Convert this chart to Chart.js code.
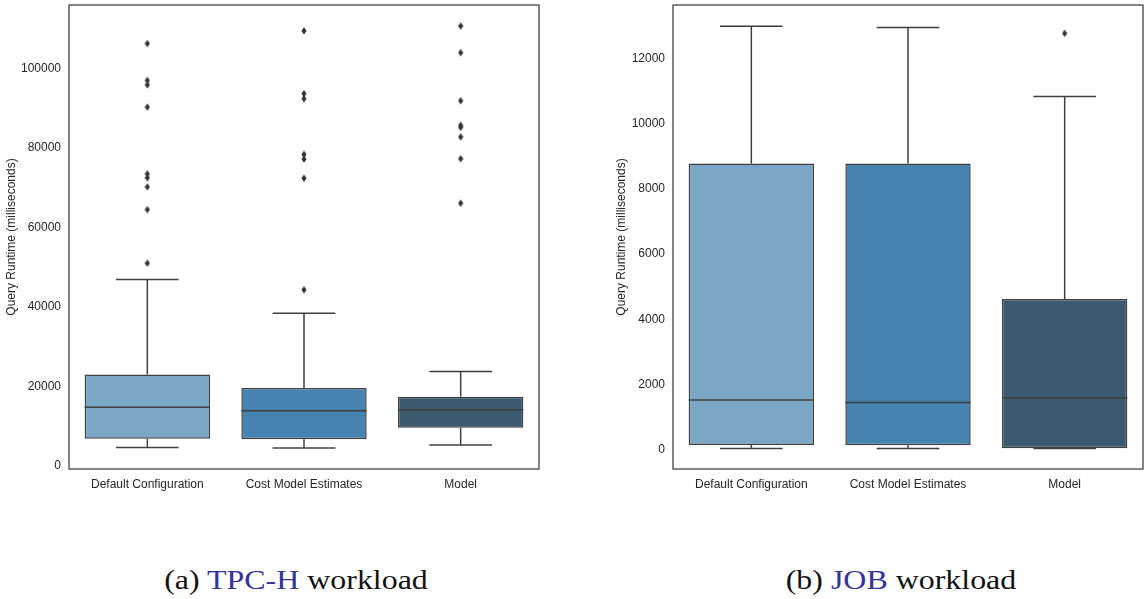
<!DOCTYPE html>
<html>
<head>
<meta charset="utf-8">
<script src="https://cdn.jsdelivr.net/npm/chart.js@4/dist/chart.umd.min.js"></script>
<style>
  html, body { margin: 0; padding: 0; background: #fff; }
  body { width: 1144px; height: 599px; overflow: hidden; position: relative; }
  canvas { position: absolute; top: 0; }
  #tpch { left: 0; }
  #job { left: 610px; }
  .caption {
    position: absolute; top: 566px; line-height: 28px;
    font-family: "Liberation Serif", "DejaVu Serif", serif; font-size: 28px;
    color: #111; white-space: nowrap; transform: translateX(-50%) scaleX(1.14);
  }
  .caption .ref { color: #33339a; }
</style>
</head>
<body>
<canvas id="tpch" width="544" height="500"></canvas>
<canvas id="job" width="538" height="500"></canvas>
<div class="caption" style="left:296px">(a) <span class="ref">TPC-H</span> workload</div>
<div class="caption" style="left:901px">(b) <span class="ref">JOB</span> workload</div>

<script>
// Configurations compared in both panels
const categories = ['Default Configuration', 'Cost Model Estimates', 'Model'];
const boxColors = ['#7ba7c6', '#4783b0', '#3b5a70'];

// TPC-H query runtimes (ms): box-plot summary per configuration
const tpchWhiskerLow  = [4600, 4500, 5250];
const tpchQ1          = [6800, 6700, 9600];
const tpchMedian      = [14750, 13850, 14100];
const tpchQ3          = [23000, 19600, 17400];
const tpchWhiskerHigh = [46900, 38400, 23750];
const tpchOutliersDefault = [51000, 64500, 70200, 72500, 73500, 90300, 95900, 97000, 106300];
const tpchOutliersCost    = [44300, 72400, 77200, 78400, 92400, 93700, 109500];
const tpchOutliersModel   = [66100, 77300, 82800, 85200, 85700, 91900, 104000, 110700];
const tpchTicks = [0, 20000, 40000, 60000, 80000, 100000];

// JOB query runtimes (ms)
const jobWhiskerLow  = [30, 30, 30];
const jobQ1          = [140, 130, 40];
const jobMedian      = [1520, 1440, 1590];
const jobQ3          = [8780, 8780, 4620];
const jobWhiskerHigh = [13000, 12960, 10840];
const jobOutliersDefault = [];
const jobOutliersCost    = [];
const jobOutliersModel   = [12780];
const jobTicks = [0, 2000, 4000, 6000, 8000, 10000, 12000];

const lineColor = '#3f3f3f';
const textColor = '#262626';
const tickFont = { family: '"Liberation Sans", Arial, sans-serif', size: 12 };

// thin diamond marker for the fliers
const flierMark = document.createElement('canvas');
flierMark.width = 6; flierMark.height = 8;
(() => {
  const c = flierMark.getContext('2d');
  c.fillStyle = '#333';
  c.beginPath();
  c.moveTo(3, 0.3); c.lineTo(5.6, 4); c.lineTo(3, 7.7); c.lineTo(0.4, 4);
  c.closePath(); c.fill();
})();

function whiskerPlugin(low, med, high) {
  return {
    id: 'whiskers',
    afterDatasetsDraw(chart) {
      const { ctx } = chart;
      const y = chart.scales.y;
      const meta = chart.getDatasetMeta(0);
      ctx.save();
      ctx.strokeStyle = lineColor;
      ctx.lineWidth = 1.5;
      const seg = (x1, y1, x2, y2) => { ctx.beginPath(); ctx.moveTo(x1, y1); ctx.lineTo(x2, y2); ctx.stroke(); };
      meta.data.forEach((bar, i) => {
        const cx = bar.x, half = bar.width / 2, cap = bar.width / 4;
        const top = Math.min(bar.y, bar.base), bottom = Math.max(bar.y, bar.base);
        const yLo = y.getPixelForValue(low[i]);
        const yHi = y.getPixelForValue(high[i]);
        const yMed = y.getPixelForValue(med[i]);
        seg(cx, bottom, cx, yLo);
        seg(cx - cap, yLo, cx + cap, yLo);
        seg(cx, top, cx, yHi);
        seg(cx - cap, yHi, cx + cap, yHi);
        seg(cx - half, yMed, cx + half, yMed);
      });
      ctx.restore();
    }
  };
}

const framePlugin = {
  id: 'frame',
  afterDraw(chart) {
    const a = chart.chartArea, ctx = chart.ctx;
    ctx.save();
    ctx.strokeStyle = '#3a3a3a';
    ctx.lineWidth = 1.25;
    ctx.strokeRect(a.left, a.top, a.right - a.left, a.bottom - a.top);
    ctx.restore();
  }
};

function noEdgePadding(scale) {
  scale.paddingTop = 0; scale.paddingBottom = 0;
  scale.paddingLeft = 0; scale.paddingRight = 0;
}

function makeChart(id, s) {
  const fliers = [];
  s.outliers.forEach((list, i) => list.forEach(v => fliers.push({ x: categories[i], y: v })));
  return new Chart(document.getElementById(id), {
    type: 'bar',
    data: {
      labels: categories,
      datasets: [
        {
          type: 'bar',
          data: categories.map((_, i) => [s.q1[i], s.q3[i]]),
          backgroundColor: boxColors,
          borderColor: lineColor,
          borderWidth: 1.5,
          borderSkipped: false,
          barPercentage: 0.8,
          categoryPercentage: 1,
          order: 1
        },
        {
          type: 'scatter',
          data: fliers,
          pointStyle: flierMark,
          showLine: false,
          order: 0
        }
      ]
    },
    options: {
      responsive: false,
      animation: false,
      events: [],
      layout: { padding: { top: 2, right: 1, left: 0, bottom: 0 } },
      plugins: { legend: { display: false }, tooltip: { enabled: false } },
      scales: {
        x: {
          type: 'category',
          grid: { display: false, drawTicks: false },
          border: { display: false },
          ticks: { font: tickFont, color: textColor, padding: 8, maxRotation: 0 },
          afterFit(scale) { scale.height = 31; noEdgePadding(scale); }
        },
        y: {
          type: 'linear',
          min: s.min, max: s.max,
          grid: { display: false, drawTicks: false },
          border: { display: false },
          ticks: { font: tickFont, color: textColor, padding: 8, callback: v => String(v) },
          afterBuildTicks(scale) { scale.ticks = s.ticks.map(v => ({ value: v })); },
          afterFit(scale) { scale.width = s.axisWidth; noEdgePadding(scale); },
          title: {
            display: true,
            text: 'Query Runtime (milliseconds)',
            font: tickFont, color: textColor,
            padding: { top: 4, bottom: 4 }
          }
        }
      }
    },
    plugins: [whiskerPlugin(s.low, s.med, s.high), framePlugin]
  });
}

makeChart('tpch', {
  q1: tpchQ1, q3: tpchQ3, med: tpchMedian, low: tpchWhiskerLow, high: tpchWhiskerHigh,
  outliers: [tpchOutliersDefault, tpchOutliersCost, tpchOutliersModel],
  ticks: tpchTicks, min: -810, max: 116000, axisWidth: 69
});

makeChart('job', {
  q1: jobQ1, q3: jobQ3, med: jobMedian, low: jobWhiskerLow, high: jobWhiskerHigh,
  outliers: [jobOutliersDefault, jobOutliersCost, jobOutliersModel],
  ticks: jobTicks, min: -600, max: 13650, axisWidth: 63
});
</script>
</body>
</html>
